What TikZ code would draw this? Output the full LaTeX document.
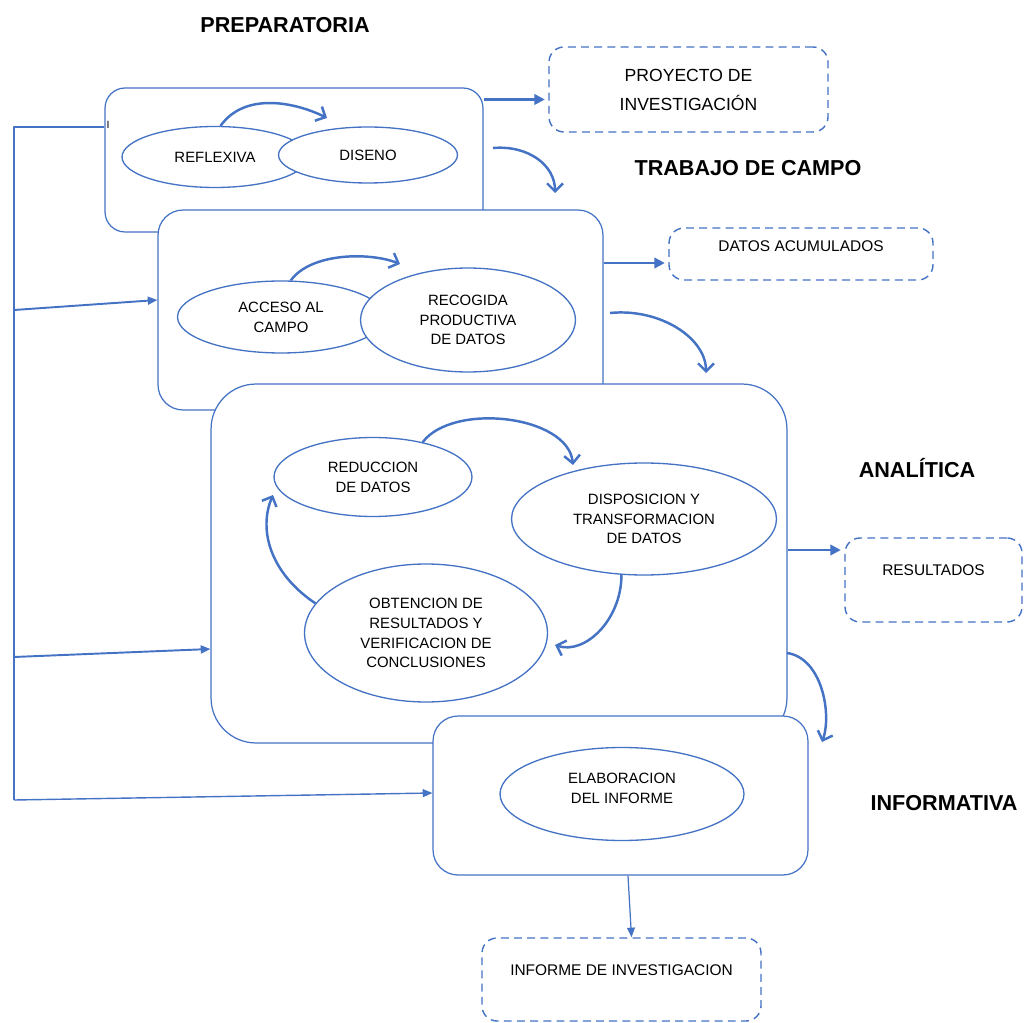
\documentclass[tikz,border=0pt]{standalone}
\usepackage{fontspec}
\setmainfont{Liberation Sans}
\usetikzlibrary{shapes.geometric,arrows.meta}
\definecolor{azul}{HTML}{4472C4}

\begin{document}
\begin{tikzpicture}[x=0.02cm, y=-0.02cm, line join=round,
  every node/.style = {align=center, text=black},
  etapa/.style = {draw=azul, line width=0.7pt, fill=white, rounded corners=#1, inner sep=0pt},
  etapa/.default = 0.5cm,
  fase/.style = {draw=azul, line width=0.75pt, ellipse, fill=white, inner sep=0pt,
    font=\fontsize{8.5}{11.3}\selectfont},
  producto/.style = {draw=azul, line width=0.8pt, dash pattern=on 4.5pt off 3pt,
    rounded corners=0.3cm, inner sep=0pt, font=\fontsize{8.8}{11}\selectfont},
  titulo/.style = {font=\fontsize{12.3}{14}\selectfont\bfseries},
  giro/.style = {draw=azul, line width=1.4pt, -{Straight Barb[length=4.5pt,width=9pt]}},
  flecha/.style = {draw=azul, line width=1.4pt, shorten >=2pt, -{Triangle[length=6pt,width=6pt]}},
  rama/.style = {draw=azul, line width=1.1pt, -{Triangle[length=5.5pt,width=4.5pt]}}]
\useasboundingbox (0,0) rectangle (1024,1023);

% preparatoria
\node[titulo] (tprep) at (285,25) {PREPARATORIA};
\node[etapa=0.4cm, minimum width=7.56cm, minimum height=2.88cm] (prep) at (294,160) {};
\node[fase, minimum width=3.72cm, minimum height=1.22cm] (refl) at (215,157) {REFLEXIVA};
\node[fase, minimum width=3.58cm, minimum height=1.12cm] (dis) at (368,155) {DISENO};
\node[font=\fontsize{6}{7}\selectfont, inner sep=0pt] (cursor) at (108,125) {I};
\coordinate (a1) at (327,118);
\draw[giro] (refl.80) .. controls +(25,-35) and +(-30,-15) .. (a1);

\node[producto, minimum width=5.58cm, minimum height=1.7cm,
  font=\fontsize{10}{16.5}\selectfont] (proy) at (688.5,89.5) {PROYECTO DE\\INVESTIGACIÓN};
\draw[flecha] ([yshift=-0.2cm]proy.west -| prep.east) -- ([yshift=-0.2cm]proy.west);

\coordinate (c1a) at (493,148);
\coordinate (c1b) at (555,193);
\draw[giro] (c1a) .. controls +(35,-3) and +(0,-28) .. (c1b);

% trabajo de campo
\node[titulo] (tcampo) at (748,168) {TRABAJO DE CAMPO};
\node[etapa=0.5cm, minimum width=8.9cm, minimum height=4cm] (campo) at (380.5,310) {};
\node[fase, minimum width=4.14cm, minimum height=1.44cm] (acc) at (281,317) {ACCESO AL\\CAMPO};
\node[fase, minimum width=4.3cm, minimum height=2.08cm] (rec) at (468,320) {RECOGIDA\\PRODUCTIVA\\DE DATOS};
\coordinate (a2) at (400,264);
\draw[giro] (acc.75) .. controls +(20,-28) and +(-30,-12) .. (a2);

\node[producto, minimum width=5.28cm, minimum height=1.04cm] (datos) at (801,254) {DATOS ACUMULADOS\\[-2pt]\mbox{}};
\draw[flecha] ([yshift=-0.18cm]datos.west -| campo.east) -- ([yshift=-0.18cm]datos.west);

\coordinate (c2a) at (610,313);
\coordinate (c2b) at (706,373);
\draw[giro] (c2a) .. controls +(50,-5) and +(0,-35) .. (c2b);

% analitica
\node[titulo] (tanal) at (917,468) {ANALÍTICA};
\node[etapa=0.9cm, minimum width=11.52cm, minimum height=7.18cm] (anal) at (499,563.5) {};
\node[fase, minimum width=3.96cm, minimum height=1.58cm] (red) at (373,477) {REDUCCION\\DE DATOS};
\node[fase, minimum width=5.3cm, minimum height=2.24cm] (disp) at (644,519) {DISPOSICION Y\\TRANSFORMACION\\DE DATOS};
\node[fase, minimum width=4.86cm, minimum height=2.76cm] (obt) at (426,633) {OBTENCION DE\\RESULTADOS Y\\VERIFICACION DE\\CONCLUSIONES};
\coordinate (a3) at (573,465);
\coordinate (a4) at (555,645);
\coordinate (a5) at (273,495);
\draw[giro] (red.35) .. controls +(30,-40) and +(-5,-50) .. (a3);
\draw[giro] (disp.-112) .. controls +(0,45) and +(30,10) .. (a4);
\draw[giro] (obt.165) .. controls +(-45,-30) and +(-15,35) .. (a5);

\node[producto, minimum width=3.54cm, minimum height=1.68cm] (res) at (933.5,580) {RESULTADOS\\\mbox{}};
\draw[flecha] ([yshift=0.6cm]res.west -| anal.east) -- ([yshift=0.6cm]res.west);

\coordinate (c3a) at (787,653);
\coordinate (c3b) at (822,742);
\draw[giro] (c3a) .. controls +(35,5) and +(10,-28) .. (c3b);

% informativa
\node[titulo] (tinf) at (944,803) {INFORMATIVA};
\node[etapa=0.5cm, minimum width=7.5cm, minimum height=3.18cm] (inf) at (620.5,795.5) {};
\node[fase, minimum width=4.88cm, minimum height=1.86cm] (elab) at (622,794) {ELABORACION\\DEL INFORME\\[-5pt]\mbox{}};

\node[producto, minimum width=5.58cm, minimum height=1.66cm] (infinv) at (621.5,979.5) {INFORME DE INVESTIGACION\\\mbox{}};
\draw[rama, line width=0.7pt] ([xshift=0.15cm]inf.south) -- ([xshift=0.2cm]infinv.north);

% linea de retorno
\coordinate (b1) at (14,127);
\coordinate (b2) at (14,310);
\coordinate (b3) at (14,657);
\coordinate (b4) at (14,800);
\draw[azul, line width=1.4pt] (prep.west |- b1) -- (b1) -- (b4);
\draw[rama] (b2) -- ([yshift=0.2cm]b2 -| campo.west);
\draw[rama] (b3) -- ([yshift=0.16cm]b3 -| anal.west);
\draw[rama, line width=0.8pt] (b4) -- ([yshift=0.14cm]b4 -| inf.west);
\end{tikzpicture}
\end{document}
